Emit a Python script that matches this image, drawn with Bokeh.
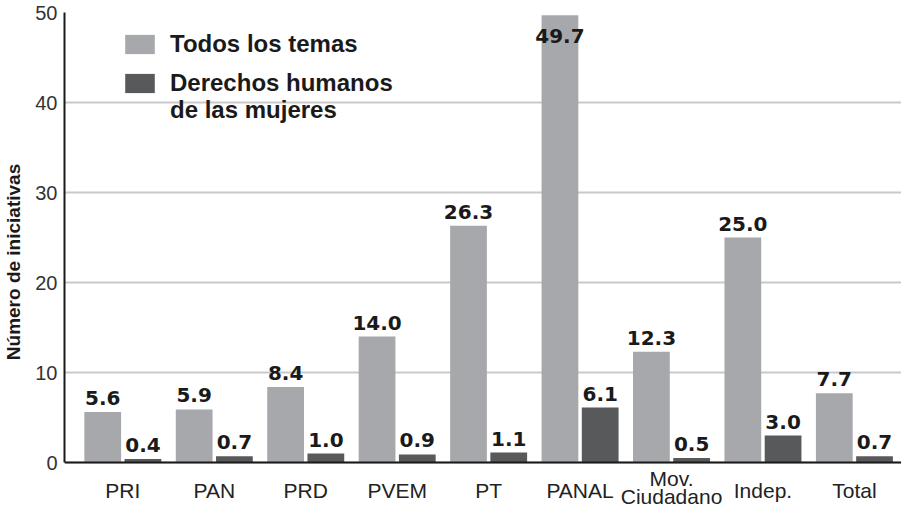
from bokeh.plotting import figure
from bokeh.models import Range1d, FixedTicker, Legend, LegendItem, ColumnDataSource, Span
from bokeh.embed import file_html
from bokeh.resources import INLINE
from bokeh.core.properties import value

categories = ["PRI", "PAN", "PRD", "PVEM", "PT", "PANAL", "Mov.\nCiudadano", "Indep.", "Total"]
todos = [5.6, 5.9, 8.4, 14.0, 26.3, 49.7, 12.3, 25.0, 7.7]
mujeres = [0.4, 0.7, 1.0, 0.9, 1.1, 6.1, 0.5, 3.0, 0.7]
series_names = ["Todos los temas", "Derechos humanos", "de las mujeres"]
y_ticks = [0, 10, 20, 30, 40, 50]

LIGHT = "#a7a8ab"
DARK = "#58595b"
dodge = 0.22
bar_w = 0.402

xs = list(range(len(categories)))
src = ColumnDataSource(dict(
    x1=[x - dodge for x in xs], x2=[x + dodge for x in xs],
    t=todos, m=mujeres,
    tl=["%.1f" % v for v in todos], ml=["%.1f" % v for v in mujeres],
    toff=[21 if v > 45 else -14 for v in todos],
))
cat_src = ColumnDataSource(dict(x=xs, y=[0] * len(xs), name=categories,
                                off=[28 - 3 * c.count("\n") for c in categories]))

H = 511
TOP = 12
px_per_unit = 9.0
y_start = -((H - TOP) / px_per_unit - 50)

p = figure(width=901, height=H, output_backend="svg", toolbar_location=None,
           x_range=Range1d(-0.638, 8.515), y_range=Range1d(y_start, 50),
           min_border_left=58, min_border_right=0, min_border_top=TOP, min_border_bottom=0)
p.outline_line_color = None
p.background_fill_color = "white"

r1 = p.vbar(x="x1", top="t", width=bar_w, source=src, fill_color=LIGHT, line_color=None)
r2 = p.vbar(x="x2", top="m", width=bar_w, source=src, fill_color=DARK, line_color=None)
r_blank = p.vbar(x=[], top=[], width=bar_w, fill_alpha=0, line_alpha=0)

p.text(x="x1", y="t", text="tl", source=src, text_align="center", text_baseline="alphabetic",
       y_offset="toff", text_font=value("DejaVu Sans"), text_font_style="bold",
       text_font_size="20px", text_color="#1a1a1a")
p.text(x="x2", y="m", text="ml", source=src, text_align="center", text_baseline="alphabetic",
       y_offset=-14, text_font=value("DejaVu Sans"), text_font_style="bold",
       text_font_size="20px", text_color="#1a1a1a")

# category labels under the baseline
p.text(x="x", y="y", text="name", source=cat_src, text_align="center",
       text_baseline="middle", y_offset="off", text_font=value("Liberation Sans"),
       text_font_size="21px", text_color="#222222", text_line_height=0.8)

# baseline
p.add_layout(Span(location=0, dimension="width", line_color="#1a1a1a", line_width=2))

# axes
p.xaxis.visible = False

p.yaxis.bounds = (0, 50)
p.yaxis.ticker = FixedTicker(ticks=y_ticks)
p.yaxis.major_tick_line_color = None
p.yaxis.major_tick_out = 0
p.yaxis.major_tick_in = 0
p.yaxis.minor_tick_line_color = None
p.yaxis.axis_line_color = "#1a1a1a"
p.yaxis.axis_line_width = 2
p.yaxis.major_label_standoff = 7
p.yaxis.major_label_text_font = "Liberation Sans"
p.yaxis.major_label_text_font_size = "20px"
p.yaxis.major_label_text_color = "#333333"
p.yaxis.axis_label = "Número de iniciativas"
p.yaxis.axis_label_text_font = "Liberation Sans"
p.yaxis.axis_label_text_font_style = "bold"
p.yaxis.axis_label_text_font_size = "19px"
p.yaxis.axis_label_text_color = "#1a1a1a"
p.yaxis.axis_label_standoff = 8

p.xgrid.grid_line_color = None
p.ygrid.ticker = FixedTicker(ticks=y_ticks)
p.ygrid.grid_line_color = "#c9c9cc"
p.ygrid.grid_line_width = 2

common = dict(padding=0, margin=0, border_line_color=None, background_fill_alpha=0,
              glyph_width=37, glyph_height=24, label_standoff=12,
              label_text_font="Liberation Sans", label_text_font_style="bold",
              label_text_font_size="24px", label_text_color="#1a1a1a")
legend1 = Legend(items=[LegendItem(label=series_names[0], renderers=[r1]),
                        LegendItem(label=series_names[1], renderers=[r2])],
                 location=(57, 414), spacing=11, **common)
legend2 = Legend(items=[LegendItem(label=series_names[2], renderers=[r_blank])],
                 location=(57, 387), **common)
p.add_layout(legend1)
p.add_layout(legend2)

open("out.html", "w").write(file_html(p, INLINE))
